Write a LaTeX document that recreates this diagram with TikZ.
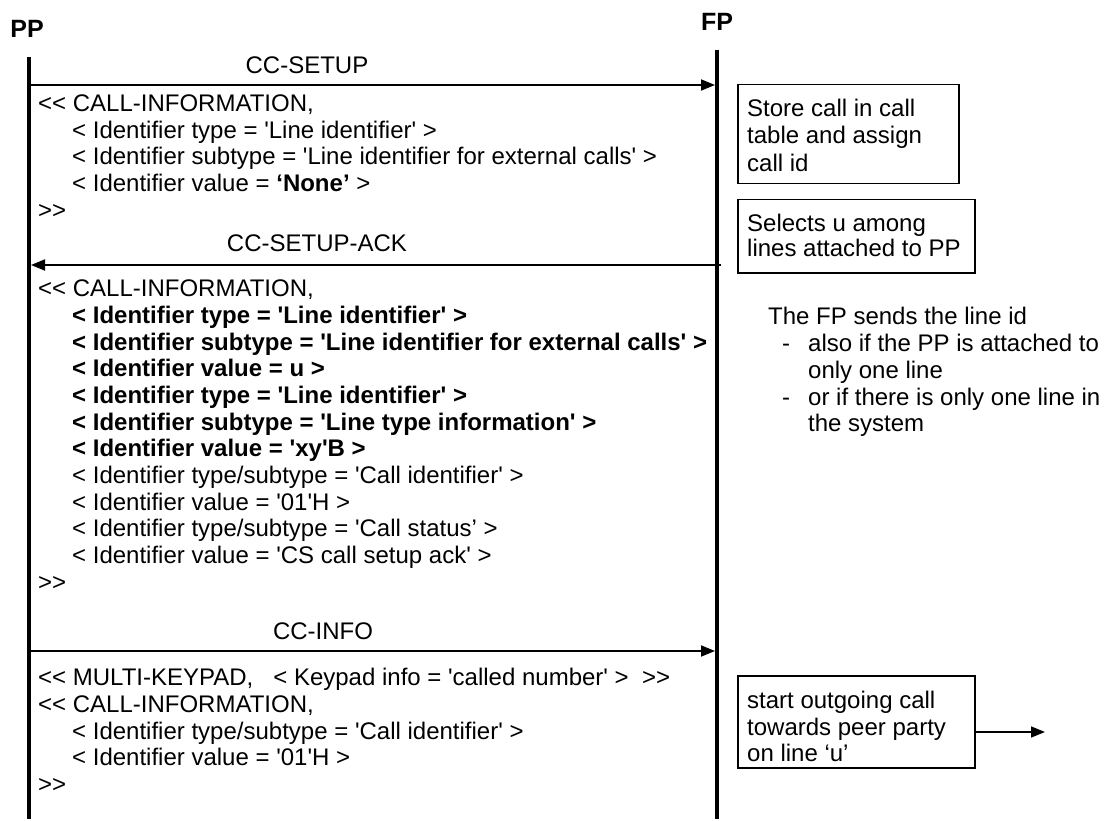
\documentclass[tikz,border=0pt]{standalone}
\usepackage{fontspec}
\setmainfont{Liberation Sans}[Ligatures=TeXOff]
\usetikzlibrary{arrows.meta}
\begin{document}
\begin{tikzpicture}[x=1pt,y=-1pt,
  txt/.style={inner sep=0pt, anchor=base west, font=\fontsize{24}{27}\selectfont},
  lbl/.style={inner sep=0pt, anchor=base, font=\fontsize{24}{27}\selectfont},
  head/.style={inner sep=0pt, anchor=base, font=\fontsize{25}{27}\selectfont\bfseries},
  life/.style={line width=4pt},
  msgarrow/.style={line width=1.8pt, -{Triangle[length=14pt,width=11pt]}},
  box/.style={draw, line width=1.5pt, inner sep=0pt, anchor=north west}]
\useasboundingbox (0,0) rectangle (1111,821);

% headers and lifelines
\node[head] (pp) at (27,38) {PP};
\node[head] (fp) at (717,31) {FP};
\coordinate (ppT) at (29,57);  \coordinate (ppB) at (29,819);
\coordinate (fpT) at (717,50); \coordinate (fpB) at (717,819);
\draw[life] (ppT) -- (ppB);
\draw[life] (fpT) -- (fpB);

% CC-SETUP
\coordinate (m1s) at (31,85); \coordinate (m1e) at (715,85);
\draw[msgarrow] (m1s) -- (m1e);
\node[lbl] (m1l) at (307,73.6) {CC-SETUP};
\node[txt] (a0) at (38,111.6) {<< CALL-INFORMATION,};
\node[txt] (a1) at (72,138.3) {< Identifier type = 'Line identifier' >};
\node[txt] (a2) at (72,165.0) {< Identifier subtype = 'Line identifier for external calls' >};
\node[txt] (a3) at (72,191.7) {< Identifier value = \textbf{‘None’} >};
\node[txt] (a4) at (38,218.4) {>>};

% boxes at FP
\node[box, minimum width=221pt, minimum height=99pt] (box1) at (737,84) {};
\node[txt] (b1a) at (747,116.6) {Store call in call};
\node[txt] (b1b) at (747,143.6) {table and assign};
\node[txt] (b1c) at (747,171.6) {call id};
\node[box, minimum width=237pt, minimum height=73pt] (box2) at (737,199) {};
\node[txt] (b2a) at (747,231.6) {Selects u among};
\node[txt] (b2b) at (747,256.6) {lines attached to PP};

% CC-SETUP-ACK
\coordinate (m2s) at (721,265); \coordinate (m2e) at (31,265);
\draw[msgarrow] (m2s) -- (m2e);
\node[lbl] (m2l) at (317,251.6) {CC-SETUP-ACK};
\node[txt] (c0) at (38,296.6) {<< CALL-INFORMATION,};
\node[txt] (c1) at (72,323.3) {\bfseries < Identifier type = 'Line identifier' >};
\node[txt] (c2) at (72,350.0) {\bfseries < Identifier subtype = 'Line identifier for external calls' >};
\node[txt] (c3) at (72,376.7) {\bfseries < Identifier value = u >};
\node[txt] (c4) at (72,403.4) {\bfseries < Identifier type = 'Line identifier' >};
\node[txt] (c5) at (72,430.1) {\bfseries < Identifier subtype = 'Line type information' >};
\node[txt] (c6) at (72,456.8) {\bfseries < Identifier value = 'xy'B >};
\node[txt] (c7) at (72,483.5) {< Identifier type/subtype = 'Call identifier' >};
\node[txt] (c8) at (72,510.2) {< Identifier value = '01'H >};
\node[txt] (c9) at (72,536.9) {< Identifier type/subtype = 'Call status’ >};
\node[txt] (c10) at (72,563.6) {< Identifier value = 'CS call setup ack' >};
\node[txt] (c11) at (38,590.3) {>>};

% note
\node[txt] (n0) at (768,324.6) {The FP sends the line id};
\node[txt] (n1d) at (782,351.6) {-};
\node[txt] (n1) at (808,351.6) {also if the PP is attached to};
\node[txt] (n2) at (808,378.3) {only one line};
\node[txt] (n3d) at (782,405.0) {-};
\node[txt] (n3) at (808,405.0) {or if there is only one line in};
\node[txt] (n4) at (808,431.7) {the system};

% CC-INFO
\coordinate (m3s) at (31,651); \coordinate (m3e) at (715,651);
\draw[msgarrow] (m3s) -- (m3e);
\node[lbl] (m3l) at (323,639.6) {CC-INFO};
\node[txt] (d0) at (38,685.6) {<< MULTI-KEYPAD,\ \ \ < Keypad info = 'called number' >\ \ >>};
\node[txt] (d1) at (38,712.3) {<< CALL-INFORMATION,};
\node[txt] (d2) at (72,739.0) {< Identifier type/subtype = 'Call identifier' >};
\node[txt] (d3) at (72,765.7) {< Identifier value = '01'H >};
\node[txt] (d4) at (38,792.4) {>>};

% outgoing call box
\node[box, minimum width=237pt, minimum height=92pt] (box3) at (737,675) {};
\node[txt] (b3a) at (747,708.6) {start outgoing call};
\node[txt] (b3b) at (747,735.6) {towards peer party};
\node[txt] (b3c) at (747,761.6) {on line ‘u’};
\coordinate (peer) at (1045,732);
\draw[line width=1.5pt, -{Triangle[length=14pt,width=11pt]}] (box3.east |- peer) -- (peer);
\end{tikzpicture}
\end{document}
